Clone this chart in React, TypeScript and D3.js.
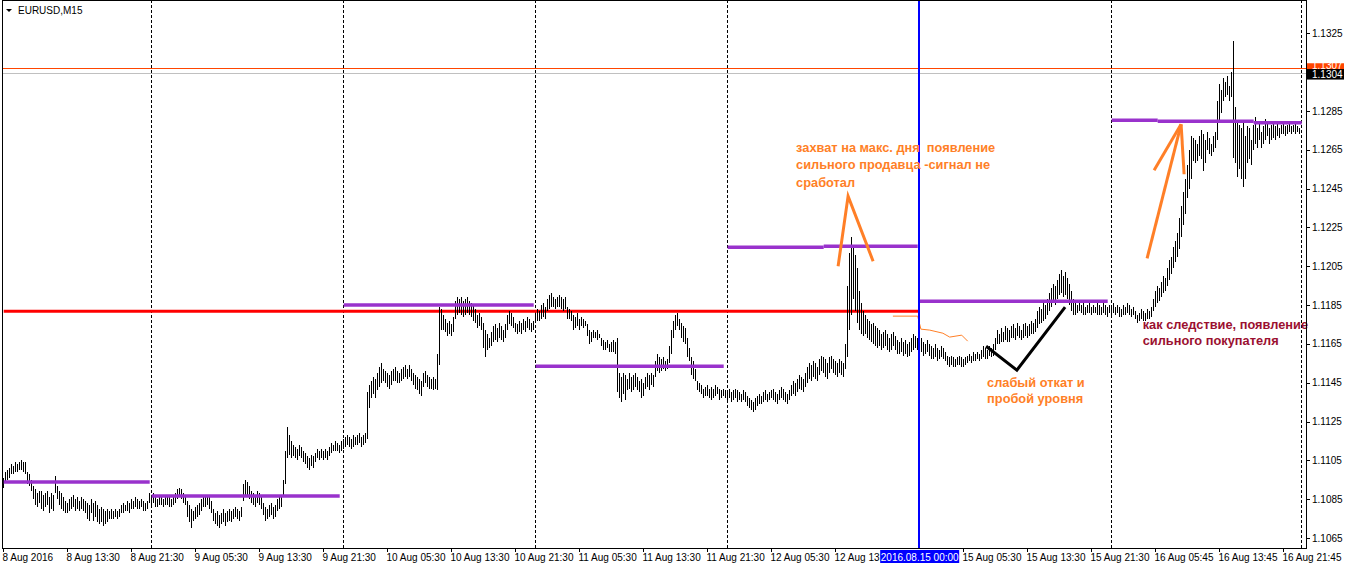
import React from "react";
import * as d3 from "d3";

// Prices are stored in pips above 1.1000 (1 pip = 0.0001)
const BASE = 1.1;
const PIP = 0.0001;

// ---- M15 bars, high / low per day ----
const aug08High = [96,99,100,101,103,102,104,103,104,105,104,104,99,98,95,92,90,88,89,89,87,88,89,86,88,87,97,92,89,88,86,84,83,85,86,87,85,86,84,86,85,84,83,82,85,83,84,82,80,81,80,79,80,79,80,79,80,79,80,82,83,82,84,83,85,84,86,85,84,85,84,83,84,88];
const aug08Low = [91,94,95,96,98,98,99,99,100,100,99,98,93,92,89,85,82,81,83,80,79,81,82,78,80,79,88,85,82,80,79,78,78,79,80,81,79,80,79,80,79,78,75,74,78,74,76,73,72,73,71,72,73,75,75,75,76,75,76,78,78,79,79,78,80,80,81,80,80,81,79,79,80,83];

const aug09High = [87,88,86,85,86,87,85,86,87,86,85,86,88,90,91,90,88,87,84,82,80,79,81,82,83,85,87,86,87,86,84,80,78,79,77,78,80,78,79,80,79,80,81,80,79,81,93,95,94,92,89,88,87,89,88,86,83,81,80,82,83,81,82,85,86,87,95,110,122,118,115,113,112,111,113,112,110,109,107,106,108,107,109,111,110,111,110,111,110,112,114,113,115,114,113,115];
const aug09Low = [82,83,81,81,82,82,81,82,82,81,81,82,83,85,86,85,83,82,76,73,70,74,75,76,77,79,81,81,82,80,78,74,72,71,70,72,73,71,73,74,73,75,76,75,74,76,84,87,86,85,83,82,81,83,82,80,77,74,75,76,77,75,76,79,80,81,86,93,106,108,106,107,106,105,107,106,104,103,101,100,102,101,104,106,105,106,105,106,105,107,109,110,110,110,109,110];

const aug10High = [116,117,118,117,116,118,117,118,119,117,118,119,140,144,146,148,147,150,153,155,152,151,150,149,151,152,153,151,150,152,153,154,152,154,152,150,149,148,147,146,150,151,149,148,147,148,147,160,184,183,180,178,176,177,175,179,187,189,188,189,187,188,189,187,186,185,183,180,181,179,176,172,170,168,171,174,175,173,176,174,172,175,180,182,181,179,176,175,177,176,178,177,179,178,176,177];
const aug10Low = [111,112,113,112,111,112,113,113,114,112,113,114,116,132,137,139,137,141,143,145,146,145,143,142,144,146,146,145,145,146,147,148,147,148,146,144,142,141,139,138,143,145,143,142,142,141,142,141,154,172,172,171,169,170,169,171,178,180,181,180,179,180,181,180,179,177,176,173,174,172,163,158,162,163,164,166,167,166,168,167,166,168,172,175,174,173,171,170,171,170,172,171,173,172,171,172];

const aug11High = [181,183,182,185,186,184,188,190,191,189,188,189,190,189,188,189,184,183,182,180,179,181,178,179,178,177,175,172,171,172,171,172,170,168,167,166,167,165,166,167,166,168,150,148,150,149,147,150,148,149,150,148,146,147,145,148,150,149,150,149,156,160,158,157,158,156,157,164,172,177,180,181,178,176,174,173,168,163,158,156,152,146,145,144,142,143,144,142,143,142,144,143,142,141,142,141];
const aug11Low = [176,177,177,178,179,178,182,183,184,184,183,184,184,183,182,183,178,178,177,172,173,174,172,174,173,174,169,165,166,168,168,167,168,164,162,162,163,161,161,161,160,140,137,135,139,136,141,142,140,141,143,141,140,137,138,142,143,141,144,143,148,151,150,151,152,151,152,155,160,168,172,174,172,168,166,165,158,156,149,147,146,141,140,139,137,138,138,137,136,137,138,139,136,137,138,137];

const aug12High = [141,142,140,141,142,141,140,139,141,140,138,137,136,135,137,138,139,138,140,141,139,140,141,142,140,139,141,143,142,140,139,141,144,146,145,147,149,148,147,150,153,155,154,156,155,153,157,159,158,157,155,158,159,157,156,155,157,156,155,165,195,212,220,215,211,204,192,186,182,180,178,177,175,176,174,173,172,170,171,172,170,168,170,171,169,167,166,168,166,167,165,166,168,170,169,168];
const aug12Low = [136,137,135,136,137,135,136,135,136,135,133,132,131,130,131,133,134,134,135,136,135,136,137,136,135,134,136,137,136,135,134,136,138,139,138,140,142,141,140,143,145,147,146,148,147,146,149,151,150,148,147,150,152,150,149,148,150,149,148,152,158,172,180,188,182,176,172,170,169,170,168,167,166,165,164,163,164,162,163,164,162,161,162,164,162,160,160,161,159,160,158,159,161,162,163,162];

const aug15High = [167,168,166,165,167,165,164,163,165,163,162,164,163,161,159,158,159,158,157,158,159,158,157,158,159,160,159,161,160,161,160,162,164,163,162,164,163,165,168,172,170,173,171,174,173,172,174,175,173,176,174,172,175,176,174,175,177,176,178,182,184,183,186,185,188,191,194,196,195,198,201,203,200,202,199,196,192,188,186,185,186,185,186,184,185,186,184,185,184,186,185,184,186,185,184,185];
const aug15Low = [160,161,159,160,161,159,157,157,158,156,157,158,157,156,154,153,154,153,153,154,154,153,153,154,155,156,155,156,156,157,156,157,158,157,157,159,158,159,162,165,165,166,166,167,166,166,168,168,167,169,168,167,168,169,168,169,170,170,171,173,175,176,177,178,180,182,184,186,185,188,190,191,189,190,188,185,182,180,180,181,182,181,180,180,181,181,180,181,181,180,180,180,181,180,179,181];

const aug16High = [185,186,184,185,184,183,185,184,186,185,183,184,182,180,181,183,182,181,183,182,184,188,192,195,194,197,200,199,204,208,210,215,218,222,230,236,243,250,257,265,272,271,270,268,272,275,273,270,274,271,268,272,274,290,299,296,302,300,303,298,305,321,287,280,278,276,280,272,277,276,270,278,282,276,279,274,277,281,279,276,278,280,277,279,276,278,279,277,278,279,277,278,279,277,276];
const aug16Low = [180,181,180,181,179,179,180,180,181,180,179,180,178,176,177,178,177,177,178,178,179,182,184,186,187,189,191,192,195,198,201,204,207,210,214,220,226,232,240,245,250,259,258,259,262,260,254,258,265,263,262,264,266,270,280,284,290,292,293,290,292,261,258,251,255,250,246,250,258,260,257,265,268,266,270,266,268,270,272,268,270,271,270,272,271,273,273,272,273,274,273,274,273,274,273];

// ---- time axis ----
const daySeparatorIdx = [74, 170, 266, 362, 554, 649];
const verticalLineIdx = 458;
const verticalLineLabel = "2016.08.15 00:00";
const timeLabelIdx = [0, 32, 64, 96, 128, 160, 192, 224, 256, 288, 320, 352, 384, 416, 480, 512, 544, 576, 608, 640];
const timeLabelText = ["8 Aug 2016", "8 Aug 13:30", "8 Aug 21:30", "9 Aug 05:30", "9 Aug 13:30", "9 Aug 21:30", "10 Aug 05:30", "10 Aug 13:30", "10 Aug 21:30", "11 Aug 05:30", "11 Aug 13:30", "11 Aug 21:30", "12 Aug 05:30", "12 Aug 13:30", "15 Aug 05:30", "15 Aug 13:30", "15 Aug 21:30", "16 Aug 05:45", "16 Aug 13:45", "16 Aug 21:45"];

// ---- price axis ----
const priceTicks = [1.1065, 1.1085, 1.1105, 1.1125, 1.1145, 1.1165, 1.1185, 1.1205, 1.1225, 1.1245, 1.1265, 1.1285, 1.1305, 1.1325];
const askPrice = 1.1307;
const bidPrice = 1.1304;

// ---- drawn levels (pips above 1.1000) ----
const levelStart = [0, 74, 170, 266, 362, 410, 458, 554, 577, 625];
const levelEnd = [73, 168, 265, 360, 410, 457, 552, 577, 625, 649];
const levelPips = [93.8, 86.6, 185, 153.5, 214.8, 215.3, 187, 280.2, 279.7, 278.9];
const redLevel = { start: 0, end: 458, pips: 181.8 };

const thinLineIdx = [444.6, 457, 458.6, 463, 469.6, 473, 479, 482];
const thinLinePips = [179.3, 179.3, 172.6, 172.1, 170.5, 168.5, 169.5, 166.4];

const orangeStrokes: [number, number][][] = [
  [[417.2, 205], [422.2, 241.1], [434.7, 207.6]],
  [[571.7, 209.1], [588.7, 278.1]],
  [[575.2, 254.5], [588.7, 278.1]],
  [[588.7, 278.1], [590.2, 252.4]],
];
const blackStroke: [number, number][] = [[491.2, 163.8], [506.6, 151.5], [530.7, 183.9]];

const note1 = ["захват на макс. дня\u00a0 появление", "сильного продавца -сигнал не", "сработал"];
const note1Anchor = { idx: 396.2, pips: [264.0, 255.0, 246.0] };
const note2 = ["слабый откат и", "пробой уровня"];
const note2Anchor = { idx: 491.7, pips: [143.0, 134.5] };
const note3 = ["как следствие, появление", "сильного покупателя"];
const note3Anchor = { idx: 569.5, pips: [172.9, 164.3] };

const highs = [...aug08High, ...aug09High, ...aug10High, ...aug11High, ...aug12High, ...aug15High, ...aug16High];
const lows = [...aug08Low, ...aug09Low, ...aug10Low, ...aug11Low, ...aug12Low, ...aug15Low, ...aug16Low];

const W = 1346, H = 569;
const LEFT = 2, RIGHT = 1306, TOP = 0, BOTTOM = 548;
const FONT = "'Liberation Sans', Arial, sans-serif";

export default function App() {
  const x = d3.scaleLinear().domain([0, 458]).range([3.7, 919.7]);
  const y = d3.scaleLinear().domain([1.1065, 1.1325]).range([538, 33.3]);
  const py = (p: number) => y(BASE + p * PIP);
  const px = (i: number) => Math.floor(x(i)) + 0.5;
  const line = d3.line<[number, number]>().x((d) => x(d[0])).y((d) => py(d[1]));

  const orange = "#ff7f27";

  return (
    <svg width={W} height={H} style={{ position: "absolute", left: 0, top: 0, background: "#fff" }} fontFamily={FONT}>
      <defs>
        <clipPath id="hiddenLabel">
          <rect x={0} y={549} width={x(verticalLineIdx) - 39.5} height={20} />
        </clipPath>
      </defs>
      <rect x={0} y={0} width={W} height={H} fill="#fff" />
      {/* separators */}
      {daySeparatorIdx.map((d, k) => (
        <line key={"s" + k} x1={px(d)} x2={px(d)} y1={TOP} y2={BOTTOM} stroke="#000" strokeDasharray="3,2" shapeRendering="crispEdges" />
      ))}
      {/* red level */}
      <line x1={x(redLevel.start)} x2={x(redLevel.end)} y1={py(redLevel.pips)} y2={py(redLevel.pips)} stroke="#ff0000" strokeWidth={3} />
      {/* ask / bid lines */}
      <line x1={LEFT} x2={RIGHT} y1={Math.round(y(bidPrice)) - 0.5} y2={Math.round(y(bidPrice)) - 0.5} stroke="#c0c0c0" shapeRendering="crispEdges" />
      <line x1={LEFT} x2={RIGHT} y1={Math.round(y(askPrice)) + 0.5} y2={Math.round(y(askPrice)) + 0.5} stroke="#ff4500" shapeRendering="crispEdges" />
      {/* bars */}
      <g stroke="#000" strokeWidth={1} shapeRendering="crispEdges">
        {highs.map((h, i) => {
          const y1 = Math.round(py(h));
          let y2 = Math.round(py(lows[i]));
          if (y2 - y1 < 1) y2 = y1 + 1;
          return <line key={i} x1={px(i)} x2={px(i)} y1={y1} y2={y2} />;
        })}
      </g>
      {/* purple levels */}
      {levelPips.map((p, k) => (
        <line key={"l" + k} x1={x(levelStart[k])} x2={x(levelEnd[k])} y1={py(p)} y2={py(p)} stroke="#9932cc" strokeWidth={3.5} />
      ))}
      {/* thin orange line */}
      <path d={line(thinLineIdx.map((d, k) => [d, thinLinePips[k]] as [number, number])) || ""} fill="none" stroke={orange} strokeWidth={1} />
      {/* blue vertical line */}
      <line x1={px(verticalLineIdx) - 0.5} x2={px(verticalLineIdx) - 0.5} y1={TOP} y2={BOTTOM} stroke="#0000ff" strokeWidth={2} />
      {/* hand-drawn strokes */}
      {orangeStrokes.map((s, k) => (
        <path key={"o" + k} d={line(s) || ""} fill="none" stroke={orange} strokeWidth={3} strokeLinejoin="miter" />
      ))}
      <path d={line(blackStroke) || ""} fill="none" stroke="#000" strokeWidth={3} />
      {/* notes */}
      <g fontWeight="bold" fontSize={12.8}>
        {note1.map((t, k) => (
          <text key={"n1" + k} x={x(note1Anchor.idx)} y={py(note1Anchor.pips[k])} fill={orange}>{t}</text>
        ))}
        {note2.map((t, k) => (
          <text key={"n2" + k} x={x(note2Anchor.idx)} y={py(note2Anchor.pips[k])} fill={orange}>{t}</text>
        ))}
        {note3.map((t, k) => (
          <text key={"n3" + k} x={x(note3Anchor.idx)} y={py(note3Anchor.pips[k])} fill="#9b1030">{t}</text>
        ))}
      </g>
      {/* frame */}
      <line x1={LEFT + 0.5} x2={LEFT + 0.5} y1={TOP} y2={BOTTOM} stroke="#000" shapeRendering="crispEdges" />
      <line x1={LEFT} x2={RIGHT} y1={TOP + 0.5} y2={TOP + 0.5} stroke="#000" shapeRendering="crispEdges" />
      <line x1={LEFT} x2={RIGHT + 1} y1={BOTTOM + 0.5} y2={BOTTOM + 0.5} stroke="#000" shapeRendering="crispEdges" />
      <line x1={RIGHT + 0.5} x2={RIGHT + 0.5} y1={TOP} y2={BOTTOM} stroke="#000" shapeRendering="crispEdges" />
      {/* price axis */}
      <g fontSize={10} fill="#000">
        {priceTicks.map((p, k) => (
          <g key={"p" + k}>
            <line x1={RIGHT} x2={RIGHT + 4} y1={Math.round(y(p)) + 0.5} y2={Math.round(y(p)) + 0.5} stroke="#000" shapeRendering="crispEdges" />
            {Math.abs(p - bidPrice) > 0.0008 && <text x={RIGHT + 6} y={y(p) + 3.6}>{p.toFixed(4)}</text>}
          </g>
        ))}
      </g>
      {/* ask / bid boxes */}
      <rect x={RIGHT + 1} y={y(askPrice) - 5} width={37} height={10.5} fill="#ff4500" />
      <text x={RIGHT + 6} y={y(askPrice) + 1} fontSize={10} fill="#fff">{askPrice.toFixed(4)}</text>
      <rect x={RIGHT + 1} y={y(bidPrice) - 5} width={37} height={10.5} fill="#000" />
      <text x={RIGHT + 6} y={y(bidPrice) + 3.6} fontSize={10} fill="#fff">{bidPrice.toFixed(4)}</text>
      {/* time axis */}
      <g fontSize={10} fill="#000">
        {timeLabelIdx.map((d, k) => (
          <g key={"t" + k}>
            <line x1={px(d)} x2={px(d)} y1={BOTTOM} y2={BOTTOM + 4} stroke="#000" shapeRendering="crispEdges" />
            <text x={px(d) - 1} y={561} clipPath={d === 416 ? "url(#hiddenLabel)" : undefined}>{timeLabelText[k]}</text>
          </g>
        ))}
      </g>
      <rect x={x(verticalLineIdx) - 39.5} y={550} width={79} height={13} fill="#0000ff" />
      <text x={x(verticalLineIdx)} y={561} fontSize={10} fill="#fff" textAnchor="middle">{verticalLineLabel}</text>
      {/* title */}
      <path d="M6,9 L12,9 L9,12 Z" fill="#000" />
      <text x={18} y={14} fontSize={10} fill="#000">EURUSD,M15</text>
    </svg>
  );
}
